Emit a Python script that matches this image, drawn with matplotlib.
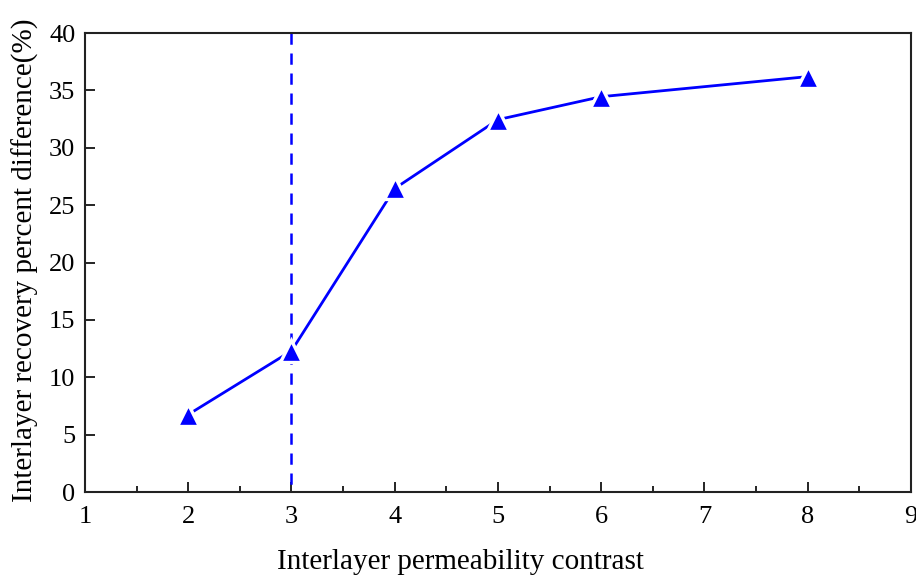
import matplotlib
matplotlib.use("Agg")
import matplotlib.pyplot as plt
from matplotlib.ticker import MultipleLocator

plt.rcParams['font.family'] = ['Liberation Serif', 'DejaVu Serif']

contrast = [2, 3, 4, 5, 6, 8]
recovery_diff = [6.75, 12.3, 26.45, 32.45, 34.45, 36.2]
threshold = 3
x_ticks = [1, 2, 3, 4, 5, 6, 7, 8, 9]
y_ticks = [0, 5, 10, 15, 20, 25, 30, 35, 40]

fig = plt.figure(figsize=(9.16, 5.77), dpi=100)
ax = fig.add_axes([0.0928, 0.1473, 0.9017, 0.7955])

# threshold marker, drawn top-down so the dash pattern starts at the frame
ax.plot([threshold, threshold], [y_ticks[-1], y_ticks[0]], color='#0000ff',
        linestyle=(0, (4.5, 3.5)), linewidth=1.8, zorder=2)
ax.plot(contrast, recovery_diff, color='#0000ff', linewidth=2.0,
        marker='^', markersize=16, markerfacecolor='#0000ff',
        markeredgecolor='white', markeredgewidth=2.4, zorder=3)

ax.set_xlim(x_ticks[0], x_ticks[-1])
ax.set_ylim(y_ticks[0], y_ticks[-1])
ax.set_xticks(x_ticks)
ax.set_yticks(y_ticks)
ax.xaxis.set_minor_locator(MultipleLocator(0.5))

for side in ['left', 'right', 'top', 'bottom']:
    ax.spines[side].set_linewidth(1.5)
    ax.spines[side].set_color('#222222')

ax.tick_params(axis='x', which='major', direction='in', length=7, width=1.2,
               labelsize=19, pad=10, top=False)
ax.tick_params(axis='x', which='minor', direction='in', length=4, width=1.2, top=False)
ax.tick_params(axis='y', which='major', direction='in', length=7, width=1.2,
               labelsize=19, pad=7, right=False)

ax.set_xlabel('Interlayer permeability contrast', fontsize=21)
ax.set_ylabel('Interlayer recovery percent difference(%)', fontsize=21)
ax.xaxis.set_label_coords(0.454, -0.125)
ax.yaxis.set_label_coords(-0.056, 0.505)

fig.savefig('out.png', dpi=100)
